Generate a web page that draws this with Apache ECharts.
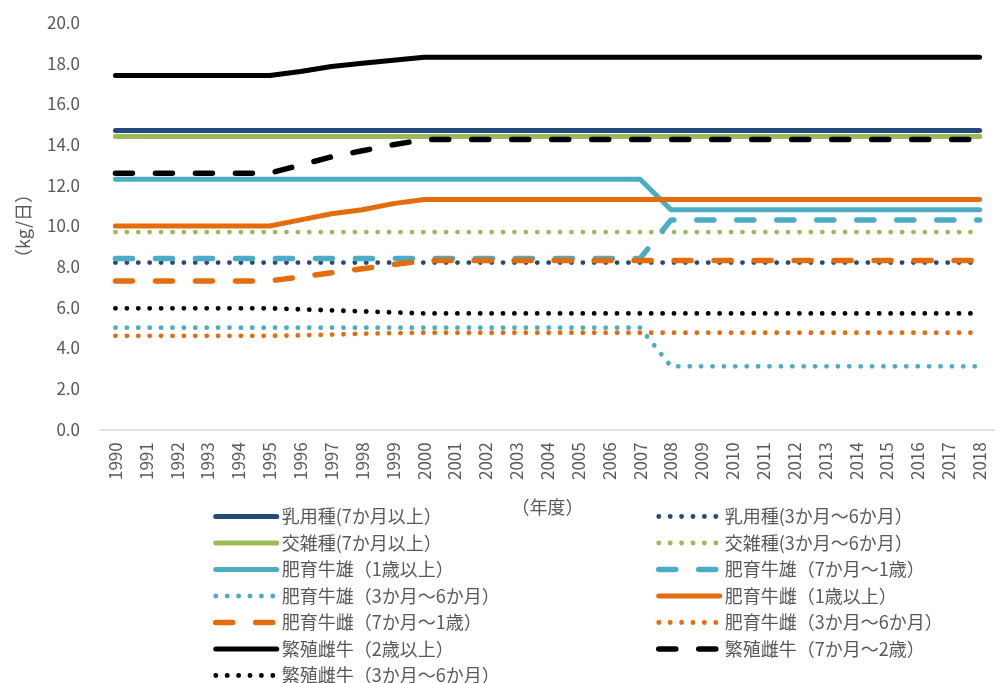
<!DOCTYPE html>
<html lang="ja">
<head>
<meta charset="utf-8">
<title>家畜1頭当たりの排せつ量の推移</title>
<script src="https://cdn.jsdelivr.net/npm/echarts@6/dist/echarts.min.js"></script>
<style>
  html, body { margin: 0; padding: 0; background: #fff; }
  #chart { width: 995px; height: 683px; }
</style>
</head>
<body>
<div id="chart"></div>
<script>
// 年度 (1990〜2018)
const years = [
  '1990','1991','1992','1993','1994','1995','1996','1997','1998','1999',
  '2000','2001','2002','2003','2004','2005','2006','2007','2008','2009',
  '2010','2011','2012','2013','2014','2015','2016','2017','2018'
];

// 縦軸の目盛り (kg/日)
const yTicks = [0, 2, 4, 6, 8, 10, 12, 14, 16, 18, 20];

// 各区分の値 (kg/日)
const dairyAdult = [
  14.7,14.7,14.7,14.7,14.7,14.7,14.7,14.7,14.7,14.7,
  14.7,14.7,14.7,14.7,14.7,14.7,14.7,14.7,14.7,14.7,
  14.7,14.7,14.7,14.7,14.7,14.7,14.7,14.7,14.7
];
const dairyCalf = [
  8.2,8.2,8.2,8.2,8.2,8.2,8.2,8.2,8.2,8.2,
  8.2,8.2,8.2,8.2,8.2,8.2,8.2,8.2,8.2,8.2,
  8.2,8.2,8.2,8.2,8.2,8.2,8.2,8.2,8.2
];
const crossAdult = [
  14.4,14.4,14.4,14.4,14.4,14.4,14.4,14.4,14.4,14.4,
  14.4,14.4,14.4,14.4,14.4,14.4,14.4,14.4,14.4,14.4,
  14.4,14.4,14.4,14.4,14.4,14.4,14.4,14.4,14.4
];
const crossCalf = [
  9.7,9.7,9.7,9.7,9.7,9.7,9.7,9.7,9.7,9.7,
  9.7,9.7,9.7,9.7,9.7,9.7,9.7,9.7,9.7,9.7,
  9.7,9.7,9.7,9.7,9.7,9.7,9.7,9.7,9.7
];
const fatMaleAdult = [
  12.3,12.3,12.3,12.3,12.3,12.3,12.3,12.3,12.3,12.3,
  12.3,12.3,12.3,12.3,12.3,12.3,12.3,12.3,10.8,10.8,
  10.8,10.8,10.8,10.8,10.8,10.8,10.8,10.8,10.8
];
const fatMaleYoung = [
  8.4,8.4,8.4,8.4,8.4,8.4,8.4,8.4,8.4,8.4,
  8.4,8.4,8.4,8.4,8.4,8.4,8.4,8.4,10.3,10.3,
  10.3,10.3,10.3,10.3,10.3,10.3,10.3,10.3,10.3
];
const fatMaleCalf = [
  5.0,5.0,5.0,5.0,5.0,5.0,5.0,5.0,5.0,5.0,
  5.0,5.0,5.0,5.0,5.0,5.0,5.0,5.0,3.1,3.1,
  3.1,3.1,3.1,3.1,3.1,3.1,3.1,3.1,3.1
];
const fatFemaleAdult = [
  10.0,10.0,10.0,10.0,10.0,10.0,10.3,10.6,10.8,11.1,
  11.3,11.3,11.3,11.3,11.3,11.3,11.3,11.3,11.3,11.3,
  11.3,11.3,11.3,11.3,11.3,11.3,11.3,11.3,11.3
];
const fatFemaleYoung = [
  7.3,7.3,7.3,7.3,7.3,7.3,7.5,7.7,7.9,8.1,
  8.3,8.3,8.3,8.3,8.3,8.3,8.3,8.3,8.3,8.3,
  8.3,8.3,8.3,8.3,8.3,8.3,8.3,8.3,8.3
];
const fatFemaleCalf = [
  4.6,4.6,4.6,4.6,4.6,4.6,4.62,4.66,4.7,4.73,
  4.75,4.75,4.75,4.75,4.75,4.75,4.75,4.75,4.75,4.75,
  4.75,4.75,4.75,4.75,4.75,4.75,4.75,4.75,4.75
];
const breedAdult = [
  17.4,17.4,17.4,17.4,17.4,17.4,17.6,17.85,18.0,18.15,
  18.3,18.3,18.3,18.3,18.3,18.3,18.3,18.3,18.3,18.3,
  18.3,18.3,18.3,18.3,18.3,18.3,18.3,18.3,18.3
];
const breedYoung = [
  12.6,12.6,12.6,12.6,12.6,12.6,13.0,13.4,13.7,14.0,
  14.25,14.25,14.25,14.25,14.25,14.25,14.25,14.25,14.25,14.25,
  14.25,14.25,14.25,14.25,14.25,14.25,14.25,14.25,14.25
];
const breedCalf = [
  5.95,5.95,5.95,5.95,5.95,5.95,5.9,5.85,5.8,5.75,
  5.7,5.7,5.7,5.7,5.7,5.7,5.7,5.7,5.7,5.7,
  5.7,5.7,5.7,5.7,5.7,5.7,5.7,5.7,5.7
];

// 系列名
const names = [
  '乳用種(7か月以上）', '乳用種(3か月～6か月）',
  '交雑種(7か月以上）', '交雑種(3か月～6か月）',
  '肥育牛雄（1歳以上）', '肥育牛雄（7か月～1歳）',
  '肥育牛雄（3か月～6か月）', '肥育牛雌（1歳以上）',
  '肥育牛雌（7か月～1歳）', '肥育牛雌（3か月～6か月）',
  '繁殖雌牛（2歳以上）', '繁殖雌牛（7か月～2歳）',
  '繁殖雌牛（3か月～6か月）'
];
const values = [
  dairyAdult, dairyCalf, crossAdult, crossCalf,
  fatMaleAdult, fatMaleYoung, fatMaleCalf, fatFemaleAdult,
  fatFemaleYoung, fatFemaleCalf, breedAdult, breedYoung, breedCalf
];

const NAVY = '#244a7b', GREEN = '#9bbb59', CYAN = '#4bacc6', ORANGE = '#e46c0a', BLACK = '#000000';
const colors = [NAVY, NAVY, GREEN, GREEN, CYAN, CYAN, CYAN, ORANGE, ORANGE, ORANGE, BLACK, BLACK, BLACK];
const kinds  = ['solid','dot','solid','dot','solid','dash','dot','solid','dash','dot','solid','dash','dot'];

function lineStyleFor(kind, color) {
  if (kind === 'dot')  return { color, width: 4.8, type: [0.1, 11.3], cap: 'round' };
  if (kind === 'dash') return { color, width: 5.5, type: [17, 23], cap: 'round' };
  return { color, width: 5, type: 'solid', cap: 'round', join: 'round' };
}

const FONT = '"Noto Sans CJK JP", sans-serif';
const GRAY = '#595959';

const series = names.map((name, i) => ({
  name,
  type: 'line',
  data: values[i],
  symbol: 'none',
  showSymbol: false,
  color: colors[i],
  lineStyle: lineStyleFor(kinds[i], colors[i]),
  emphasis: { disabled: true }
}));

// 凡例の各項目 (線の種類を系列と揃える)
function legendItem(i) {
  const ls = lineStyleFor(kinds[i], colors[i]);
  return {
    name: names[i],
    itemStyle: { color: 'rgba(0,0,0,0)', borderWidth: 0, opacity: 0 },
    lineStyle: { color: ls.color, width: ls.width, type: ls.type, cap: ls.cap, opacity: 1 }
  };
}

const legendBase = {
  orient: 'vertical',
  padding: 0,
  height: 220,
  itemWidth: 61,
  itemHeight: 10,
  itemGap: 8.5,
  selectedMode: false,
  textStyle: { fontSize: 18, color: GRAY, fontFamily: FONT }
};

const chart = echarts.init(document.getElementById('chart'), null, { renderer: 'canvas' });
chart.setOption({
  animation: false,
  backgroundColor: '#ffffff',
  textStyle: { fontFamily: FONT },
  grid: { left: 100, top: 22.7, width: 901, height: 406.6, containLabel: false },
  xAxis: {
    type: 'category',
    data: years,
    boundaryGap: true,
    name: '（年度）',
    nameLocation: 'middle',
    nameGap: 69,
    nameTextStyle: { fontSize: 18, color: GRAY, fontFamily: FONT },
    axisLine: { lineStyle: { color: '#d9d9d9', width: 1.5 } },
    axisTick: { show: false },
    axisLabel: { rotate: 90, margin: 13, fontSize: 17, color: GRAY, fontFamily: FONT, interval: 0 }
  },
  yAxis: {
    type: 'value',
    min: yTicks[0],
    max: yTicks[yTicks.length - 1],
    interval: yTicks[1] - yTicks[0],
    name: '（kg/日）',
    nameLocation: 'middle',
    nameRotate: 90,
    nameGap: 68,
    nameTextStyle: { fontSize: 18, color: GRAY, fontFamily: FONT },
    axisLine: { show: false },
    axisTick: { show: false },
    splitLine: { show: false },
    axisLabel: {
      margin: 20, fontSize: 17, color: GRAY, fontFamily: FONT,
      formatter: v => v.toFixed(1)
    }
  },
  legend: [
    Object.assign({}, legendBase, {
      left: 213, top: 507.5,
      data: [0, 2, 4, 6, 8, 10, 12].map(legendItem)
    }),
    Object.assign({}, legendBase, {
      left: 656, top: 507.5,
      data: [1, 3, 5, 7, 9, 11].map(legendItem)
    })
  ],
  series
});
</script>
</body>
</html>
